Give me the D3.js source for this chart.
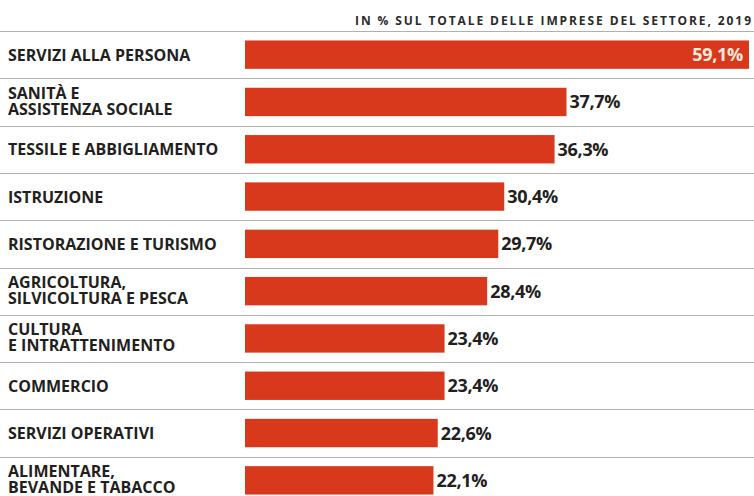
<!DOCTYPE html>
<html>
<head>
<meta charset="utf-8">
<script src="https://cdn.jsdelivr.net/npm/d3@7"></script>
<style>
  body { margin:0; background:#fff; }
  text { font-family:"Open Sans", sans-serif; font-weight:700; }
</style>
</head>
<body>
<svg id="chart" width="754" height="496"></svg>
<script>
//---data---
var categories=["SERVIZI ALLA PERSONA","SANITÀ E|ASSISTENZA SOCIALE","TESSILE E ABBIGLIAMENTO","ISTRUZIONE","RISTORAZIONE E TURISMO","AGRICOLTURA,|SILVICOLTURA E PESCA","CULTURA|E INTRATTENIMENTO","COMMERCIO","SERVIZI OPERATIVI","ALIMENTARE,|BEVANDE E TABACCO"]
var values=[59.1,37.7,36.3,30.4,29.7,28.4,23.4,23.4,22.6,22.1]
var valueLabels=["59,1%","37,7%","36,3%","30,4%","29,7%","28,4%","23,4%","23,4%","22,6%","22,1%"]
var subtitle="IN % SUL TOTALE DELLE IMPRESE DEL SETTORE, 2019"

var width=754, height=496
var barColor="#d8391d", inkColor="#231f20"

var svg=d3.select("#chart")

var x=d3.scaleLinear()
  .domain([0,d3.max(values)])
  .range([245,749])

var y=d3.scaleBand()
  .domain(categories)
  .range([31,504])
  .paddingInner(0.4)
  .paddingOuter(0.2)

var step=y.step()

//---subtitle---
svg.append("text")
  .attr("x",751)
  .attr("y",25)
  .attr("text-anchor","end")
  .attr("font-size",12)
  .attr("fill","#2b2b2b")
  .attr("textLength",396)
  .attr("lengthAdjust","spacing")
  .text(subtitle)

//---separator lines---
svg.selectAll("line.sep")
  .data(categories)
  .enter().append("line")
  .attr("class","sep")
  .attr("x1",0)
  .attr("x2",width)
  .attr("y1",function(d){ return Math.round(y(d)-step*0.2)+0.5 })
  .attr("y2",function(d){ return Math.round(y(d)-step*0.2)+0.5 })
  .attr("stroke","#b0b0b0")
  .attr("stroke-width",1)

//---bars---
svg.selectAll("rect.bar")
  .data(values)
  .enter().append("rect")
  .attr("class","bar")
  .attr("x",x(0))
  .attr("y",function(d,i){ return y(categories[i]) })
  .attr("width",function(d){ return x(d)-x(0) })
  .attr("height",y.bandwidth())
  .attr("fill",barColor)

//---category labels---
var labels=svg.selectAll("text.cat")
  .data(categories)
  .enter().append("text")
  .attr("class","cat")
  .attr("font-size",16)
  .attr("fill",inkColor)

labels.each(function(d){
  var lines=d.split("|")
  var cy=y(d)+y.bandwidth()/2
  var t=d3.select(this)
  if(lines.length==1)
  {
    t.append("tspan").attr("x",8).attr("y",cy+6).text(lines[0])
  }
  else
  {
    t.append("tspan").attr("x",8).attr("y",cy-3).text(lines[0])
    t.append("tspan").attr("x",8).attr("y",cy+13).text(lines[1])
  }
})

//---value labels---
svg.selectAll("text.val")
  .data(values)
  .enter().append("text")
  .attr("class","val")
  .attr("font-size",18)
  .attr("letter-spacing",-0.3)
  .attr("y",function(d,i){ return y(categories[i])+y.bandwidth()/2+6.5 })
  .attr("x",function(d,i){ return i==0 ? x(d)-6 : x(d)+3 })
  .attr("text-anchor",function(d,i){ return i==0 ? "end" : "start" })
  .attr("fill",function(d,i){ return i==0 ? "#fbe9dc" : inkColor })
  .text(function(d,i){ return valueLabels[i] })
</script>
</body>
</html>
